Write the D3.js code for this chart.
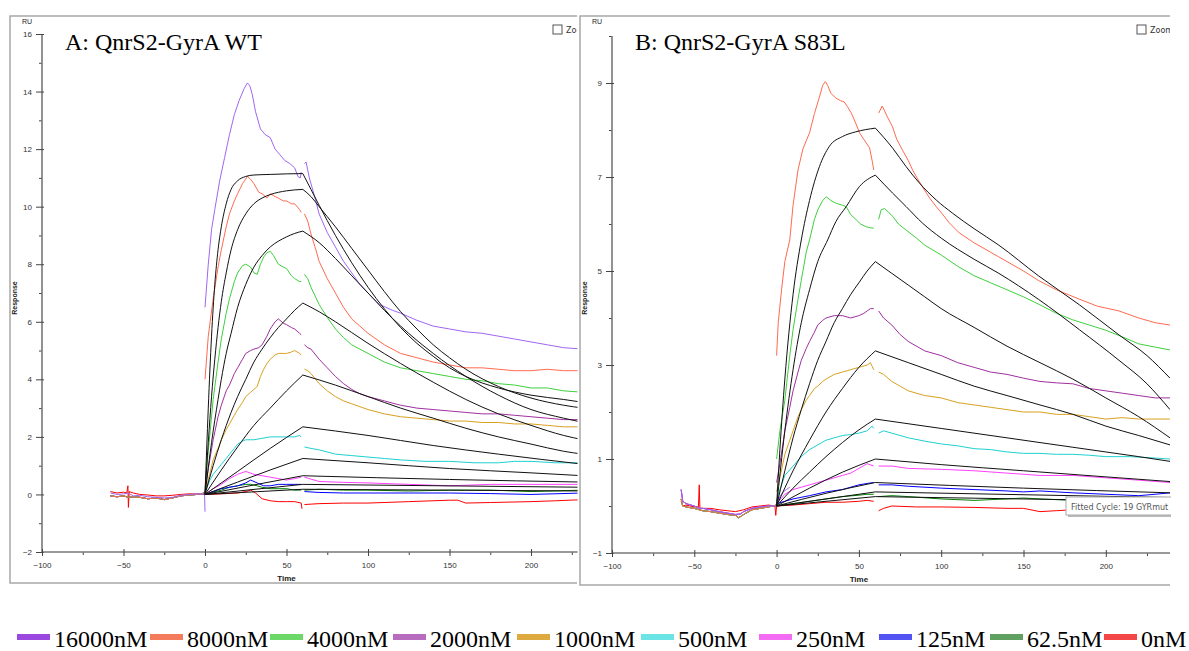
<!DOCTYPE html>
<html>
<head>
<meta charset="utf-8">
<script src="https://cdn.jsdelivr.net/npm/d3@7"></script>
<style>
  body { margin: 0; background: #fff; }
  .tick text { font-family: "Liberation Sans", Arial, sans-serif; font-size: 8px; fill: #333; }
</style>
</head>
<body>
<script>
// concentrations & colours
var concLabels = ["16000nM", "8000nM", "4000nM", "2000nM", "1000nM", "500nM", "250nM", "125nM", "62.5nM", "0nM"];
var lineColors = ["#a066f0", "#ff6a50", "#3ed03e", "#a030a0", "#d8a020", "#20d0d0", "#ff40ff", "#0000ff", "#008000", "#ff0000"];
var legendColors = ["#9b48e0", "#f47c5c", "#6cd868", "#b86cc0", "#deaa40", "#6ae4e4", "#f46cf4", "#5454f4", "#60a060", "#f44848"];

var yTicksA = [-2, 0, 2, 4, 6, 8, 10, 12, 14, 16];
var yTicksB = [-1, 1, 3, 5, 7, 9];
var xTicks = [-100, -50, 0, 50, 100, 150, 200];

// ---- panel A : WT baseline (t -58..0) ----
var wtBase = [
  [[-58,0.05],[-54,0],[-50,0.02],[-47,0.05],[-44,-0.05],[-40,-0.03],[-35,-0.08],[-30,-0.1],[-25,-0.12],[-20,-0.1],[-15,-0.03],[-10,0.0],[-5,0.02],[-1,0.0],[-0.3,0.1],[0,-0.6]],
  [[-58,-0.05],[-54,-0.08],[-50,-0.05],[-47,-0.1],[-44,-0.08],[-40,-0.1],[-35,-0.15],[-30,-0.12],[-25,-0.18],[-20,-0.12],[-15,-0.05],[-10,-0.02],[-5,0.0],[0,0.05]],
  [[-58,0.1],[-54,0.05],[-50,0.08],[-48,0.05],[-47.3,0.3],[-47,-0.45],[-46.5,0.1],[-44,0.05],[-40,0.0],[-35,-0.02],[-30,-0.05],[-25,-0.05],[-20,-0.03],[-15,0.0],[-10,0.02],[-5,0.02],[0,0.0]]
];
var wtBaseIndex = [0, 1, 1, 1, 1, 1, 1, 1, 1, 2];

var wtAssoc = [
  [[0,6.5],[2,8.0],[4,9.2],[6,9.9],[9,10.9],[12,11.7],[15,12.5],[18,13.2],[21,13.7],[24,14.1],[26,14.3],[27.5,14.2],[29,13.9],[31,13.3],[34,12.7],[37,12.5],[40,12.4],[43,12.0],[46,11.8],[49,11.6],[52,11.5],[55,11.35],[57,11.05],[58.5,11.0],[59,11.2]],
  [[0,4.0],[2,5.5],[5,6.8],[8,7.9],[10,8.5],[13,9.3],[15,9.75],[18,10.2],[20,10.45],[23,10.8],[26,11.05],[28,10.95],[30,10.8],[33,10.5],[35,10.45],[38,10.3],[40,10.45],[43,10.35],[45,10.3],[48,10.2],[50,10.2],[53,10.1],[55,10.1],[58,9.9],[59,9.8]],
  [[0,0.2],[2,1.5],[5,3.3],[8,4.6],[10,5.4],[13,6.3],[15,6.8],[18,7.4],[20,7.7],[23,7.95],[25,8.0],[28,7.9],[30,7.7],[32,7.65],[34,8.0],[36,8.25],[38,8.4],[40,8.45],[42,8.3],[45,8.0],[48,7.9],[50,7.85],[53,7.6],[55,7.5],[58,7.4],[59,7.4]],
  [[0,0.1],[2,0.9],[5,1.9],[8,2.7],[10,3.1],[13,3.6],[15,3.8],[18,4.2],[20,4.4],[23,4.7],[25,4.9],[28,5.0],[30,5.05],[33,5.1],[35,5.2],[38,5.5],[40,5.75],[43,6.0],[45,6.1],[48,5.95],[50,5.9],[53,5.8],[55,5.75],[58,5.6],[59,5.55]],
  [[0,0.05],[2,0.5],[5,1.2],[8,1.6],[10,1.9],[13,2.25],[15,2.45],[18,2.75],[20,2.95],[23,3.2],[25,3.4],[28,3.55],[30,3.65],[32,3.75],[34,4.1],[36,4.35],[38,4.55],[40,4.7],[43,4.85],[45,4.9],[48,4.9],[50,4.9],[53,4.95],[55,5.0],[58,4.9],[59,4.85]],
  [[0,0.05],[3,0.5],[5,0.7],[8,0.9],[10,1.05],[13,1.25],[15,1.4],[18,1.6],[20,1.75],[23,1.85],[25,1.9],[28,1.9],[30,1.9],[35,1.95],[40,2.0],[45,2.0],[50,2.0],[55,2.0],[58,2.05],[59,2.0]],
  [[0,0.0],[5,0.2],[10,0.35],[15,0.55],[20,0.7],[25,0.8],[30,0.7],[35,0.65],[40,0.6],[45,0.55],[50,0.5],[55,0.55],[59,0.6]],
  [[0,0.0],[5,0.1],[10,0.2],[15,0.25],[20,0.3],[25,0.4],[28,0.5],[32,0.4],[36,0.3],[40,0.3],[45,0.35],[50,0.35],[55,0.35],[59,0.35]],
  [[0,0.0],[5,0.08],[10,0.15],[15,0.25],[20,0.3],[25,0.35],[28,0.35],[32,0.3],[35,0.25],[40,0.2],[45,0.2],[50,0.2],[55,0.15],[59,0.15]],
  [[0,0.0],[10,0.02],[20,0.05],[25,0.1],[28,0.15],[31,0.05],[35,-0.15],[40,-0.22],[45,-0.25],[50,-0.25],[55,-0.25],[59,-0.3],[59.5,-0.5]]
];
var wtDiss = [
  [[61,11.5],[62,11.55],[64,11.0],[67,10.4],[70,9.75],[75,9.1],[80,8.6],[85,8.1],[90,7.7],[95,7.3],[100,7.0],[107,6.6],[115,6.4],[120,6.3],[130,6.05],[140,5.85],[150,5.75],[160,5.65],[170,5.6],[180,5.5],[190,5.4],[200,5.3],[210,5.2],[220,5.1],[232,5.05]],
  [[61,9.75],[63,9.5],[65,9.05],[68,8.5],[70,8.1],[75,7.5],[80,7.0],[85,6.5],[90,6.1],[95,5.85],[100,5.6],[110,5.2],[120,4.9],[130,4.75],[140,4.6],[150,4.5],[160,4.4],[170,4.4],[180,4.35],[190,4.3],[200,4.3],[210,4.35],[220,4.3],[232,4.3]],
  [[61,7.65],[63,7.5],[65,7.2],[70,6.6],[75,6.15],[80,5.75],[85,5.45],[90,5.2],[95,5.05],[100,4.9],[110,4.6],[120,4.4],[130,4.3],[140,4.2],[150,4.1],[160,4.0],[170,3.95],[180,3.85],[190,3.8],[200,3.7],[210,3.7],[220,3.6],[232,3.55]],
  [[61,5.2],[63,5.1],[65,5.05],[70,4.7],[75,4.4],[80,4.1],[85,3.85],[90,3.65],[95,3.5],[100,3.4],[110,3.25],[120,3.1],[130,3.0],[140,2.95],[150,2.9],[160,2.85],[170,2.8],[180,2.8],[190,2.75],[200,2.7],[210,2.65],[220,2.6],[232,2.6]],
  [[61,4.35],[63,4.3],[65,4.2],[70,3.85],[75,3.6],[80,3.4],[85,3.25],[90,3.15],[95,3.05],[100,2.95],[110,2.8],[120,2.7],[130,2.65],[140,2.6],[150,2.55],[160,2.55],[170,2.5],[180,2.5],[190,2.45],[200,2.45],[210,2.4],[220,2.35],[232,2.35]],
  [[61,1.65],[65,1.6],[70,1.55],[80,1.4],[90,1.35],[100,1.3],[110,1.25],[120,1.2],[135,1.15],[150,1.15],[165,1.1],[180,1.1],[190,1.15],[200,1.15],[215,1.1],[232,1.1]],
  [[61,0.6],[70,0.45],[85,0.42],[100,0.4],[125,0.35],[150,0.3],[175,0.35],[200,0.35],[232,0.35]],
  [[61,0.1],[70,0.07],[85,0.05],[100,0.05],[125,0.05],[150,0.05],[175,0.03],[200,0.0],[232,0.05]],
  [[61,0.15],[70,0.18],[85,0.15],[100,0.15],[125,0.12],[150,0.15],[175,0.15],[200,0.1],[232,0.15]],
  [[61,-0.35],[70,-0.32],[85,-0.3],[100,-0.3],[125,-0.25],[150,-0.2],[155,-0.2],[160,-0.3],[175,-0.28],[200,-0.25],[215,-0.22],[232,-0.18]]
];
var wtFitAssoc = [
  [[0,0],[2,3.0],[4,5.5],[6,7.3],[8,8.5],[10,9.3],[13,10.1],[16,10.6],[20,10.9],[25,11.05],[30,11.1],[40,11.12],[50,11.14],[60,11.15]],
  [[0,0],[2,1.8],[4,3.4],[6,4.7],[8,5.8],[10,6.7],[13,7.7],[16,8.5],[20,9.2],[25,9.75],[30,10.1],[35,10.3],[40,10.42],[50,10.55],[60,10.6]],
  [[0,0],[4,1.8],[8,3.3],[10,4.0],[13,4.9],[16,5.6],[20,6.5],[25,7.3],[30,7.9],[35,8.3],[40,8.6],[45,8.8],[50,8.95],[55,9.07],[60,9.15]],
  [[0,0],[5,1.0],[10,1.9],[16,2.85],[20,3.4],[25,4.0],[30,4.6],[35,5.05],[40,5.45],[45,5.8],[50,6.1],[55,6.4],[60,6.65]],
  [[0,0],[10,0.85],[20,1.65],[30,2.4],[40,3.0],[50,3.6],[60,4.15]],
  [[0,0],[20,0.8],[40,1.6],[60,2.35]],
  [[0,0],[20,0.43],[40,0.85],[60,1.25]],
  [[0,0],[30,0.33],[60,0.65]],
  [[0,0],[60,0.35]],
  [[0,0],[60,0.18]]
];
var wtFitDiss = [
  [[60,11.15],[65,10.6],[70,10.05],[80,9.0],[90,8.05],[100,7.2],[110,6.45],[120,5.8],[130,5.25],[140,4.8],[150,4.4],[160,4.1],[180,3.7],[200,3.45],[220,3.3],[232,3.2]],
  [[60,10.6],[65,10.35],[70,10.0],[80,9.3],[90,8.55],[100,7.8],[110,7.05],[120,6.35],[130,5.75],[140,5.2],[150,4.75],[160,4.35],[180,3.75],[200,3.35],[220,3.1],[232,3.0]],
  [[60,9.15],[70,8.75],[80,8.2],[90,7.6],[100,7.0],[110,6.4],[120,5.85],[140,4.9],[160,4.1],[180,3.45],[200,2.95],[220,2.65],[232,2.5]],
  [[60,6.65],[70,6.35],[80,6.0],[100,5.25],[120,4.55],[140,3.9],[160,3.3],[180,2.8],[200,2.4],[220,2.05],[232,1.9]],
  [[60,4.15],[80,3.8],[100,3.4],[120,3.0],[140,2.65],[160,2.3],[180,2.0],[200,1.75],[220,1.5],[232,1.4]],
  [[60,2.35],[100,2.05],[140,1.7],[180,1.4],[232,1.05]],
  [[60,1.25],[100,1.1],[150,0.9],[200,0.75],[232,0.65]],
  [[60,0.65],[150,0.52],[232,0.43]],
  [[60,0.35],[232,0.25]],
  [[60,0.18],[232,0.12]]
];

// ---- panel B : S83L ----
var mutBase = [
  [[-58,0.35],[-57,0.1],[-55,0.05],[-50,0.0],[-47,-0.05],[-45,-0.05],[-40,-0.08],[-35,-0.12],[-30,-0.15],[-25,-0.18],[-22,-0.17],[-20,-0.12],[-15,-0.05],[-10,-0.02],[-5,0.0],[0,0.0]],
  [[-58,0.15],[-57,0.0],[-55,-0.02],[-50,-0.05],[-47,-0.08],[-45,-0.1],[-40,-0.12],[-35,-0.15],[-30,-0.18],[-25,-0.2],[-23,-0.25],[-20,-0.18],[-15,-0.08],[-10,-0.05],[-5,-0.02],[0,0.02]],
  [[-58,0.1],[-57,0.0],[-55,0.02],[-50,-0.02],[-47.5,-0.02],[-47,0.45],[-46.6,-0.05],[-45,-0.05],[-40,-0.05],[-35,-0.08],[-30,-0.1],[-25,-0.12],[-20,-0.08],[-15,-0.02],[-10,0.0],[-5,0.02],[-1,0.0],[-0.5,-0.2],[0,0.0]]
];
var mutBaseIndex = [0, 1, 1, 0, 1, 1, 0, 1, 1, 2];

var mutAssoc = [
  [[0,0.05],[2,0.2],[4,0.3],[6,0.35],[8,0.4]],
  [[0,3.2],[1,3.9],[3,4.6],[5,5.2],[8,5.66],[10,6.4],[13,7.15],[16,7.6],[20,7.94],[23,8.35],[26,8.7],[28,8.95],[29.6,9.03],[31,8.95],[33,8.78],[36,8.68],[39,8.62],[41,8.6],[43,8.5],[45.4,8.36],[48,8.15],[50.4,7.94],[53,7.8],[56.5,7.62],[58.3,7.3],[59,7.15]],
  [[0,1.0],[2,1.6],[5,2.25],[8,3.2],[10,3.75],[13,4.4],[15,4.8],[18,5.4],[20,5.66],[23,6.1],[25,6.3],[28,6.5],[30.2,6.58],[33,6.5],[36.2,6.44],[40,6.4],[42.3,6.37],[45,6.2],[48.4,6.09],[51,6.0],[54.5,5.94],[57,5.92],[59,5.91]],
  [[0,0.5],[2,0.9],[5,1.6],[8,2.1],[10,2.45],[13,2.85],[15,3.1],[18,3.35],[20,3.5],[23,3.7],[25,3.85],[28,3.95],[30,4.0],[35,4.05],[40,4.05],[45,4.0],[50,4.05],[53,4.1],[55,4.15],[57,4.2],[59,4.2]],
  [[0,0.3],[2,0.6],[5,1.1],[8,1.4],[10,1.6],[13,1.9],[15,2.05],[18,2.25],[20,2.35],[23,2.5],[25,2.55],[28,2.65],[30,2.7],[35,2.8],[40,2.85],[45,2.9],[50,2.95],[55,3.0],[57,3.05],[59,2.9]],
  [[0,0.1],[2,0.35],[5,0.65],[10,0.85],[15,1.05],[20,1.2],[25,1.3],[30,1.4],[35,1.45],[40,1.5],[45,1.52],[50,1.55],[55,1.6],[58,1.7],[59,1.65]],
  [[0,0.05],[5,0.25],[10,0.35],[15,0.4],[20,0.45],[25,0.5],[30,0.55],[35,0.6],[40,0.65],[45,0.7],[50,0.8],[55,0.9],[59,0.85]],
  [[0,0.05],[5,0.1],[10,0.15],[20,0.22],[30,0.3],[40,0.35],[50,0.45],[55,0.48],[59,0.5]],
  [[0,0.0],[10,0.05],[20,0.1],[30,0.15],[40,0.2],[50,0.23],[55,0.25],[59,0.25]],
  [[0,0.0],[10,0.02],[20,0.05],[30,0.08],[40,0.08],[50,0.1],[55,0.12],[59,0.1]]
];
var mutDiss = [
  [],
  [[62,8.36],[64.2,8.51],[67,8.3],[70.4,8.07],[73,7.8],[76.5,7.57],[80,7.35],[82.6,7.15],[85,7.0],[88.6,6.79],[93,6.55],[97,6.37],[101,6.2],[105,6.02],[111,5.81],[120,5.6],[135,5.3],[150,5.0],[159,4.8],[170,4.6],[184,4.4],[195,4.25],[208,4.15],[220,4.0],[230,3.9],[239,3.85]],
  [[62,6.1],[63.5,6.3],[65.6,6.33],[68,6.25],[70.6,6.16],[74,6.0],[78.7,5.87],[85,5.7],[90,5.55],[100,5.34],[110,5.1],[120,4.9],[130,4.75],[140,4.6],[150,4.45],[160,4.28],[170,4.1],[180,3.96],[190,3.85],[200,3.74],[210,3.6],[220,3.45],[230,3.38],[239,3.32]],
  [[62,4.15],[65,4.0],[70,3.85],[75,3.65],[80,3.5],[90,3.3],[100,3.2],[110,3.05],[120,2.95],[130,2.85],[140,2.8],[150,2.72],[160,2.65],[170,2.62],[180,2.6],[190,2.5],[200,2.45],[210,2.4],[220,2.35],[230,2.3],[239,2.3]],
  [[62,2.85],[65,2.8],[70,2.65],[75,2.55],[80,2.45],[90,2.35],[100,2.3],[110,2.2],[120,2.15],[130,2.1],[140,2.05],[150,2.0],[160,2.0],[170,1.95],[180,1.95],[190,1.9],[200,1.85],[210,1.88],[220,1.85],[230,1.85],[239,1.85]],
  [[62,1.55],[65,1.6],[70,1.55],[80,1.45],[90,1.38],[100,1.32],[110,1.28],[120,1.22],[130,1.2],[140,1.15],[150,1.12],[160,1.12],[170,1.1],[180,1.1],[190,1.08],[200,1.05],[215,1.05],[230,1.02],[239,1.0]],
  [[62,0.85],[70,0.85],[80,0.8],[100,0.78],[120,0.75],[140,0.7],[160,0.65],[180,0.65],[200,0.6],[220,0.55],[239,0.5]],
  [[62,0.45],[70,0.45],[80,0.42],[100,0.38],[120,0.35],[140,0.32],[150,0.3],[160,0.32],[180,0.28],[200,0.25],[220,0.22],[230,0.25],[239,0.28]],
  [[62,0.2],[70,0.22],[80,0.2],[100,0.15],[120,0.12],[140,0.15],[150,0.17],[160,0.15],[180,0.12],[200,0.1],[220,0.12],[239,0.1]],
  [[62,-0.1],[65,-0.05],[70,0.0],[85,-0.02],[100,-0.02],[120,-0.03],[140,-0.05],[150,-0.05],[160,-0.12],[170,-0.1],[180,-0.08],[200,-0.08],[239,-0.05]]
];
var mutFitAssoc = [
  [[0,0],[2,1.2],[5,2.7],[10,4.5],[15,5.66],[20,6.5],[26,7.22],[32,7.65],[40,7.86],[48,7.96],[60,8.04]],
  [[0,0],[5,1.6],[10,2.9],[15,3.9],[20,4.6],[25,5.2],[31,5.66],[36,6.05],[42.3,6.37],[50.4,6.8],[60,7.04]],
  [[0,0],[5,0.75],[10,1.45],[15,2.05],[20,2.6],[25,3.1],[30,3.5],[35,3.9],[40,4.2],[45,4.5],[50,4.75],[55,5.0],[60,5.2]],
  [[0,0],[10,0.75],[20,1.4],[30,2.0],[40,2.5],[50,2.95],[60,3.3]],
  [[0,0],[10,0.38],[20,0.72],[30,1.05],[40,1.35],[50,1.62],[60,1.85]],
  [[0,0],[20,0.38],[40,0.72],[60,1.0]],
  [[0,0],[30,0.27],[60,0.5]],
  [[0,0],[60,0.3]],
  [[0,0],[60,0.2]]
];
var mutFitDiss = [
  [[60,8.04],[70.6,7.61],[78.7,7.22],[86.8,6.87],[97,6.51],[106.9,6.23],[120,5.9],[135,5.55],[159,4.9],[184,4.28],[208,3.64],[225,3.2],[239,2.72]],
  [[60,7.04],[70.4,6.66],[78.7,6.37],[88.6,6.02],[100,5.7],[120,5.25],[135,4.95],[159,4.4],[184,3.75],[208,3.1],[225,2.6],[239,2.05]],
  [[60,5.2],[70,4.95],[80,4.7],[90,4.45],[100,4.2],[120,3.8],[140,3.4],[160,3.05],[180,2.7],[200,2.3],[220,1.9],[239,1.45]],
  [[60,3.3],[80,3.05],[100,2.8],[120,2.55],[140,2.35],[160,2.15],[180,1.95],[200,1.7],[220,1.5],[239,1.3]],
  [[60,1.85],[100,1.65],[140,1.45],[180,1.25],[220,1.05],[239,0.95]],
  [[60,1.0],[100,0.88],[150,0.75],[200,0.62],[239,0.52]],
  [[60,0.5],[150,0.38],[239,0.28]],
  [[60,0.3],[239,0.18]],
  [[60,0.2],[239,0.1]]
];

// legend layout (swatch left edges)
var legendX = [17, 150, 270, 393, 517, 641, 759, 879, 990, 1104];

var W = 1189, H = 651;
var svg = d3.select("body").append("svg")
    .attr("width", W)
    .attr("height", H);

var panels = [
  { id: "A", title: "A: QnrS2-GyrA WT", box: [10, 16, 567, 567], left: 42, right: 577.5, top: 34, bottom: 552, zoomX: 553,
    xDomain: [-100, 228.5], yDomain: [-2, 16], yMajor: yTicksA, yMinorMax: 16,
    base: wtBase, baseIdx: wtBaseIndex, assoc: wtAssoc, diss: wtDiss, fitA: wtFitAssoc, fitD: wtFitDiss },
  { id: "B", title: "B: QnrS2-GyrA S83L", box: [580, 16, 590, 569], left: 612, right: 1170, top: 36, bottom: 553, zoomX: 1137,
    xDomain: [-100, 239], yDomain: [-1, 10], yMajor: yTicksB, yMinorMax: 10,
    base: mutBase, baseIdx: mutBaseIndex, assoc: mutAssoc, diss: mutDiss, fitA: mutFitAssoc, fitD: mutFitDiss }
];

panels.forEach(function(p) {
  var g = svg.append("g");
  var bx = p.box;

  var x = d3.scaleLinear().domain(p.xDomain).range([p.left, p.right]);
  var y = d3.scaleLinear().domain(p.yDomain).range([p.bottom, p.top]);

  // panel frame (right side is cropped in the original)
  g.append("path")
    .attr("d", "M" + (bx[0] + bx[2]) + "," + bx[1] + "H" + bx[0] + "V" + (bx[1] + bx[3]) + "H" + (bx[0] + bx[2]))
    .attr("fill", "none").attr("stroke", "#a8a8a8").attr("stroke-width", 1.5);

  var clipId = "clip" + p.id;
  svg.append("clipPath").attr("id", clipId)
    .append("rect").attr("x", p.left).attr("y", bx[1] + 2).attr("width", p.right - p.left).attr("height", p.bottom - bx[1]);

  // minor ticks
  var yMinor = d3.range(p.yDomain[0], p.yMinorMax + 0.001, 1).filter(function(v) { return p.yMajor.indexOf(v) < 0; });
  g.append("g").attr("transform", "translate(" + p.left + ",0)")
    .call(d3.axisLeft(y).tickValues(yMinor).tickSize(3).tickFormat(""))
    .call(function(a) { a.select(".domain").remove(); a.selectAll("line").attr("stroke", "#444"); });
  var yAx = g.append("g").attr("transform", "translate(" + p.left + ",0)")
    .call(d3.axisLeft(y).tickValues(p.yMajor).tickSizeInner(6).tickSizeOuter(0).tickPadding(4));
  yAx.selectAll(".tick line").attr("x2", -6).attr("x1", 2).attr("stroke", "#444");
  yAx.select(".domain").attr("stroke", "#777").attr("stroke-width", 1.6)
    .attr("d", "M0," + y(p.yDomain[1]) + "V" + y(p.yDomain[0]));

  var xMinor = [-75, -25, 25, 75, 125, 175, 225];
  g.append("g").attr("transform", "translate(0," + p.bottom + ")")
    .call(d3.axisBottom(x).tickValues(xMinor).tickSize(3).tickFormat(""))
    .call(function(a) { a.select(".domain").remove(); a.selectAll("line").attr("stroke", "#444"); });
  var xAx = g.append("g").attr("transform", "translate(0," + p.bottom + ")")
    .call(d3.axisBottom(x).tickValues(xTicks).tickSizeInner(4).tickSizeOuter(0).tickPadding(6));
  xAx.selectAll(".tick line").attr("y1", -3).attr("stroke", "#444");
  xAx.select(".domain").attr("stroke", "#777").attr("stroke-width", 1.6)
    .attr("d", "M" + p.left + ",0H" + p.right);

  // axis titles
  g.append("text").attr("x", bx[0] + 12).attr("y", bx[1] + 8)
    .attr("font-family", "Liberation Sans, Arial").attr("font-size", 7).attr("fill", "#222").text("RU");
  g.append("text").attr("transform", "translate(" + (bx[0] + 7) + ",298) rotate(-90)")
    .attr("text-anchor", "middle").attr("font-family", "Liberation Sans, Arial").attr("font-size", 7)
    .attr("font-weight", "bold").attr("fill", "#222").text("Response");
  g.append("text").attr("x", x(50)).attr("y", p.bottom + 29).attr("text-anchor", "middle")
    .attr("font-family", "Liberation Sans, Arial").attr("font-size", 8).attr("font-weight", "bold")
    .attr("fill", "#222").text("Time");

  // title
  g.append("text").attr("x", p.left + 23).attr("y", 49.5)
    .attr("font-family", "Liberation Serif, Times New Roman, serif").attr("font-size", 24)
    .attr("fill", "#000").text(p.title);

  // zoom checkbox
  var zclip = "zclip" + p.id;
  svg.append("clipPath").attr("id", zclip).append("rect").attr("x", bx[0]).attr("y", bx[1]).attr("width", bx[2]).attr("height", 40);
  var zg = g.append("g").attr("clip-path", "url(#" + zclip + ")");
  zg.append("rect").attr("x", p.zoomX).attr("y", bx[1] + 9).attr("width", 9).attr("height", 9)
    .attr("fill", "#fff").attr("stroke", "#555").attr("stroke-width", 1);
  zg.append("text").attr("x", p.zoomX + 13).attr("y", bx[1] + 17)
    .attr("font-family", "DejaVu Sans, sans-serif").attr("font-size", 8).attr("fill", "#333").text("Zoom");

  var plot = g.append("g").attr("clip-path", "url(#" + clipId + ")");
  var dataLine = d3.line().x(function(d) { return x(d[0]); }).y(function(d) { return y(d[1]); });
  var fitLine = d3.line().curve(d3.curveMonotoneX).x(function(d) { return x(d[0]); }).y(function(d) { return y(d[1]); });

  // baseline
  for (var i = concLabels.length - 1; i >= 0; i--) {
    plot.append("path").attr("d", dataLine(p.base[p.baseIdx[i]]))
      .attr("fill", "none").attr("stroke", lineColors[i]).attr("stroke-width", 1);
  }
  // sensorgrams
  for (var i = concLabels.length - 1; i >= 0; i--) {
    [p.assoc[i], p.diss[i]].forEach(function(seg) {
      if (seg && seg.length) {
        plot.append("path").attr("d", dataLine(seg))
          .attr("fill", "none").attr("stroke", lineColors[i]).attr("stroke-width", 1);
      }
    });
  }
  // fits
  p.fitA.forEach(function(seg, k) {
    [seg, p.fitD[k]].forEach(function(s) {
      plot.append("path").attr("d", fitLine(s))
        .attr("fill", "none").attr("stroke", "#111").attr("stroke-width", 1);
    });
  });
});

// tooltip in panel B
var tip = svg.append("g");
tip.append("rect").attr("x", 1066).attr("y", 497).attr("width", 112).attr("height", 18)
  .attr("fill", "#bbb").attr("transform", "translate(2,2)");
tip.append("rect").attr("x", 1066).attr("y", 497).attr("width", 112).attr("height", 18)
  .attr("fill", "#fff").attr("stroke", "#aaa");
tip.append("text").attr("x", 1071).attr("y", 509.5)
  .attr("font-family", "DejaVu Sans, sans-serif").attr("font-size", 8).attr("fill", "#555")
  .text("Fitted Cycle: 19  GYRmut");
svg.append("rect").attr("x", 1171).attr("y", 0).attr("width", 18).attr("height", 600).attr("fill", "#fff");

// legend
var leg = svg.append("g");
concLabels.forEach(function(lab, i) {
  leg.append("rect").attr("x", legendX[i]).attr("y", 634).attr("width", 33).attr("height", 6)
    .attr("fill", legendColors[i]);
  leg.append("text").attr("x", legendX[i] + 37).attr("y", 647)
    .attr("font-family", "Liberation Serif, Times New Roman, serif").attr("font-size", 24)
    .attr("fill", "#000").text(lab);
});
</script>
</body>
</html>
